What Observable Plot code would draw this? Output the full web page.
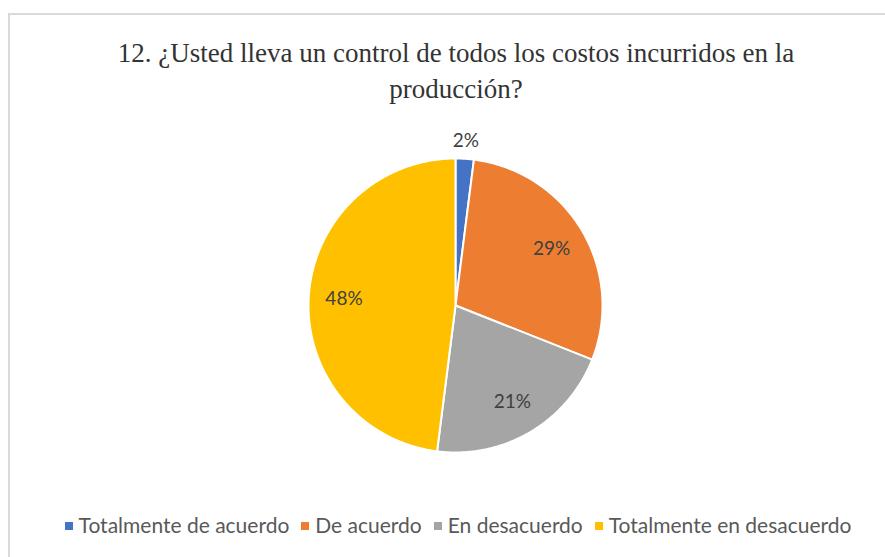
<!DOCTYPE html>
<html>
<head>
<meta charset="utf-8">
<script src="https://cdn.jsdelivr.net/npm/d3@7"></script>
<script src="https://cdn.jsdelivr.net/npm/@observablehq/plot@0.6"></script>
<style>
  html, body { margin: 0; padding: 0; background: #fff; }
  #wrap { position: relative; width: 885px; height: 557px; overflow: hidden; background: #fff; }
  #frame { position: absolute; left: 8px; top: 13px; width: 900px; height: 600px;
           border-left: 2px solid #d9d9d9; border-top: 2px solid #d9d9d9; box-sizing: border-box; }
  #title { position: absolute; left: 0; width: 912px; top: 35px; text-align: center;
           font-family: "Liberation Serif", "Times New Roman", serif; font-size: 27px;
           line-height: 36px; color: #333; }
  #chart { position: absolute; left: 0; top: 120px; }
  #legend { position: absolute; left: 0; width: 916px; top: 512px; text-align: center; line-height: 26px;
            font-family: Lato, "Open Sans", sans-serif; font-size: 21px; color: #595959; white-space: nowrap; }
  #legend span.item { margin: 0 6px; }
  #legend span.sw { display: inline-block; width: 8px; height: 8px; margin-right: 6px; vertical-align: 3px; }
</style>
</head>
<body>
<div id="wrap">
  <div id="frame"></div>
  <div id="title"></div>
  <div id="chart"></div>
  <div id="legend"></div>
</div>
<script>
const titleLines = ["12. ¿Usted lleva un control de todos los costos incurridos en la", "producción?"];
const categories = ["Totalmente de acuerdo", "De acuerdo", "En desacuerdo", "Totalmente en desacuerdo"];
const values = [2, 29, 21, 48];
const labels = ["2%", "29%", "21%", "48%"];
const colors = ["#4472C4", "#ED7D31", "#A5A5A5", "#FFC000"];

document.getElementById("title").innerHTML = titleLines.join("<br>");

const rows = categories.map((c, i) => ({cat: c, value: values[i], label: labels[i]}));
const arcs = d3.pie().sort(null).value(d => d.value)(rows);

// polygon outline of each slice, derived from the pie angles
const poly = [];
for (const a of arcs) {
  poly.push({cat: a.data.cat, x: 0, y: 0});
  const n = Math.max(4, Math.ceil((a.endAngle - a.startAngle) / 0.01));
  for (let k = 0; k <= n; k++) {
    const t = a.startAngle + (a.endAngle - a.startAngle) * k / n;
    poly.push({cat: a.data.cat, x: Math.sin(t), y: Math.cos(t)});
  }
}
const labelPts = arcs.map(a => {
  const m = (a.startAngle + a.endAngle) / 2;
  const frac = a.data.value < 5 ? 1.12 : 0.76;
  return {label: a.data.label, x: Math.sin(m) * frac, y: Math.cos(m) * frac};
});

const cx = 455, cy = 185, r = 147;
const plot = Plot.plot({
  width: 885,
  height: 360,
  margin: 0,
  x: {domain: [-1, 1], range: [cx - r, cx + r], axis: null},
  y: {domain: [-1, 1], range: [cy + r, cy - r], axis: null},
  color: {domain: categories, range: colors},
  style: {background: "transparent", overflow: "visible"},
  marks: [
    Plot.line(poly, {x: "x", y: "y", z: "cat", fill: "cat", stroke: "white", strokeWidth: 2, curve: "linear-closed", strokeLinejoin: "round"}),
    Plot.text(labelPts, {x: "x", y: "y", text: "label", fill: "#404040", fontSize: 19, fontFamily: "Lato, 'Open Sans', sans-serif"})
  ]
});
document.getElementById("chart").appendChild(plot);

const leg = document.getElementById("legend");
categories.forEach((c, i) => {
  const s = document.createElement("span");
  s.className = "item";
  s.innerHTML = `<span class="sw" style="background:${colors[i]}"></span>${c}`;
  leg.appendChild(s);
});
</script>
</body>
</html>
